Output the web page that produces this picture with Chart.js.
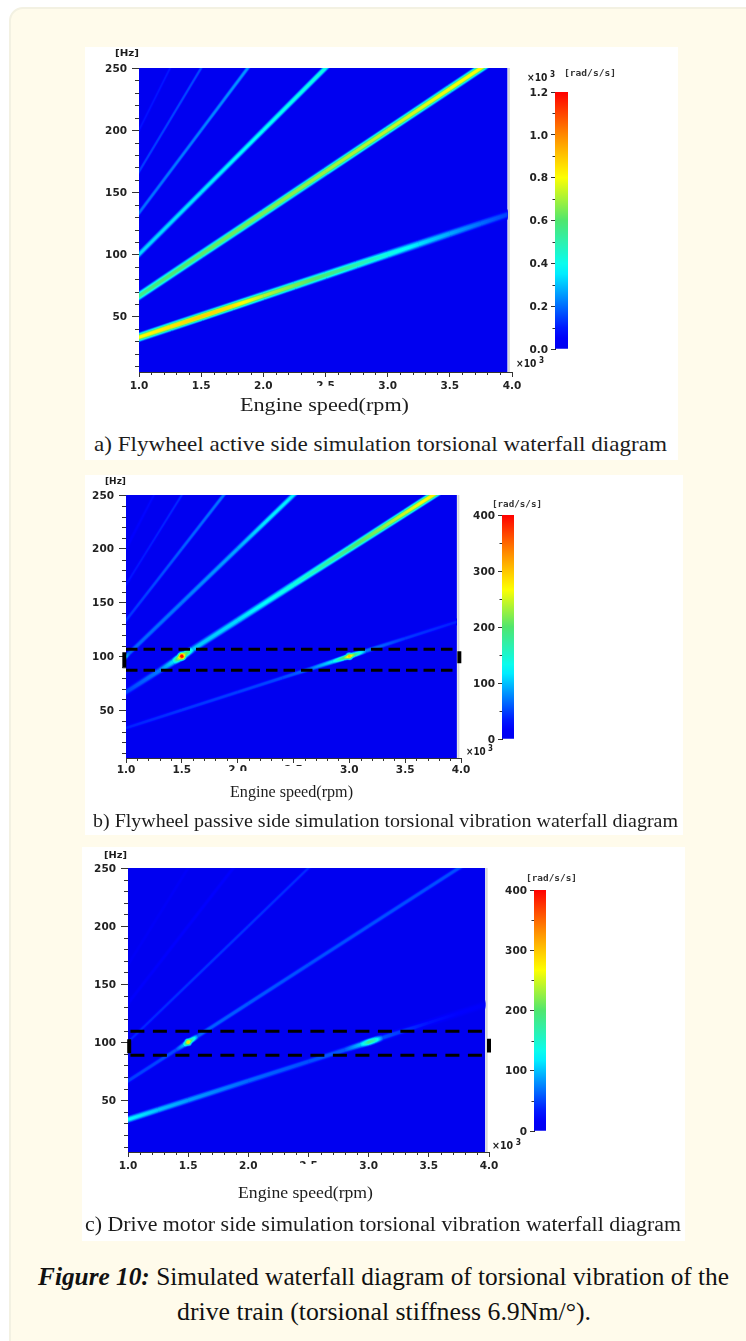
<!DOCTYPE html>
<html><head><meta charset="utf-8">
<script src="https://cdn.jsdelivr.net/npm/chart.js@4"></script>
<style>
html,body{margin:0;padding:0;background:#fff;width:746px;height:1341px;overflow:hidden}
#stage{position:absolute;left:0;top:0;width:746px;height:1341px;overflow:hidden;filter:blur(.35px)}
#card{position:absolute;left:9px;top:7px;width:760px;height:1360px;box-sizing:border-box;background:#fffbeb;border:2px solid #f3f1e2;border-radius:14px}
.panel,.patch{position:absolute;background:#fff}
canvas{position:absolute}
.t{position:absolute;white-space:nowrap;transform-origin:0 50%;color:#1c1c1c}
</style></head><body><div id="stage"><div id="card"></div></div>
<script>
// ---------- data: [engine speed x10^3 rpm, frequency Hz, amplitude] ----------
const xTicks=[1,1.5,2,2.5,3,3.5,4];
const xMinor=[1.1,1.2,1.3,1.4,1.6,1.7,1.8,1.9,2.1,2.2,2.3,2.4,2.6,2.7,2.8,2.9,3.1,3.2,3.3,3.4,3.6,3.7,3.8,3.9];
const yTicks=[50,100,150,200,250];
const yMinor=[10,20,30,40,60,70,80,90,110,120,130,140,160,170,180,190,210,220,230,240];
const barTicksA=[0,0.2,0.4,0.6,0.8,1.0,1.2];
const barMinorA=[0.1,0.3,0.5,0.7,0.9,1.1];
const barTicksBC=[0,100,200,300,400];
const barMinorBC=[50,150,250,350];

const a2=[[0.98,32.7,0.8],[1.25,41.7,0.85],[1.5,50,0.88],[1.75,58.3,0.85],[2,66.7,0.72],[2.25,75,0.65],[2.5,83.3,0.58],[2.75,91.7,0.5],[3,100,0.42],[3.25,108.3,0.34],[3.5,116.7,0.27],[3.75,125,0.2],[4,133.3,0.14]];
const a4=[[0.98,65.3,0.56],[1.5,100,0.62],[2,133.3,0.65],[2.5,166.7,0.69],[3,200,0.73],[3.5,233.3,0.79],[3.8,253.3,0.8]];
const a6=[[0.98,98,0.32],[1.5,150,0.34],[2,200,0.38],[2.5,250,0.42],[2.55,255,0.42]];
const a8=[[0.98,130.7,0.2],[1.5,200,0.22],[1.875,250,0.25],[1.92,256,0.25]];
const a10=[[0.98,163.3,0.14],[1.25,208.3,0.15],[1.5,250,0.16],[1.55,258,0.16]];
const a12=[[0.98,196,0.09],[1.25,250,0.1],[1.3,260,0.1]];

const b2=[[0.98,32.7,36],[1.5,50,44],[2,66.7,48],[2.4,80,52],[2.65,88.3,66],[2.85,95,115],[2.95,98.3,200],[3,100,300],[3.05,101.7,190],[3.15,105,72],[3.5,116.7,46],[4,133.3,34]];
const b4=[[0.98,65.3,48],[1.3,86.7,72],[1.42,94.7,110],[1.47,98,240],[1.5,100,395],[1.53,102,220],[1.6,106.7,100],[2,133.3,110],[2.5,166.7,140],[3,200,190],[3.5,233.3,250],[3.8,253.3,280]];
const b6=[[0.98,98,110],[1.03,103,62],[1.5,150,70],[2,200,90],[2.25,225,115],[2.5,250,118],[2.55,255,118]];
const b8=[[0.98,130.7,42],[1.5,200,60],[1.875,250,70],[1.92,256,70]];
const b10=[[0.98,163.3,30],[1.5,250,40],[1.55,258,40]];
const b12=[[0.98,196,22],[1.25,250,28],[1.3,260,28]];
const hotB=[[1.5,100,395],[3,100,300],[1,100,120]];

const c2=[[0.98,32.7,125],[1.25,41.7,100],[1.5,50,85],[2,66.7,65],[2.5,83.3,55],[2.8,93.3,58],[2.93,97.7,100],[3,100,185],[3.05,101.7,160],[3.12,104,56],[3.5,116.7,30],[4,133.3,18]];
const c4=[[0.98,65.3,48],[1.4,93.3,52],[1.46,97.3,95],[1.5,100,290],[1.53,102,180],[1.58,105.3,62],[2,133.3,58],[2.5,166.7,55],[3,200,55],[3.5,233.3,54],[3.8,253.3,54]];
const c6=[[0.98,98,36],[1.5,150,42],[2,200,42],[2.5,250,40],[2.55,255,40]];
const c8=[[0.98,130.7,20],[1.5,200,24],[1.875,250,24],[1.92,256,24]];
const c10=[[0.98,163.3,12],[1.5,250,15],[1.55,258,15]];
const hotC=[[1.5,100,290],[3,100,185]];

const bandBHigh=[[1,106.5],[3.963,106.5]];
const bandBLow=[[1,87],[3.963,87]];
const bandBLeft=[[0.985,103.7],[0.985,88.8]];
const bandBRight=[[3.985,104.6],[3.985,93.5]];
const bandCHigh=[[1.02,109.5],[3.97,109.5]];
const bandCLow=[[1.02,88.8],[3.97,88.8]];
const bandCLeft=[[1.01,102.6],[1.01,90.5]];
const bandCRight=[[4,103],[4,91]];

const captions={
 a:'a) Flywheel active side simulation torsional waterfall diagram',
 b:'b) Flywheel passive side simulation torsional vibration waterfall diagram',
 c:'c) Drive motor side simulation torsional vibration waterfall diagram'};
const xTitle='Engine speed(rpm)';

// ---------- colours ----------
const BLUE=[0,0,240];
const jetStops=[[0,BLUE],[.06,[0,0,255]],[.31,[0,255,255]],[.5,[80,230,110]],[.67,[255,255,0]],[.83,[255,140,0]],[1,[255,0,0]]];
function jet(t){t=Math.max(0,Math.min(1,t));
 for(let i=1;i<jetStops.length;i++){if(t<=jetStops[i][0]){const[a,ca]=jetStops[i-1],[b,cb]=jetStops[i],f=(t-a)/(b-a);
  return `rgb(${ca.map((c,j)=>Math.round(c+(cb[j]-c)*f)).join(',')})`;}}
 return 'rgb(255,0,0)';}

// ---------- ridge = stacked lines, brightest and narrowest on top ----------
const layerK=[.16,.32,.5,.68,.84,1], layerW=[1,.86,.72,.58,.44,.3];
function ridge(rows,width,max,P){
 const cr=-(4-P.end)/3*(P.right-P.left);
 return layerK.map((k,li)=>({
  data:rows.map(r=>({x:r[0],y:r[1]})),
  borderWidth:width*layerW[li],borderCapStyle:'butt',pointRadius:0,tension:0,clip:{left:0,top:0,right:cr,bottom:0},order:20-li,
  borderColor:jet(rows[0][2]/max*k),
  segment:{borderColor(c){
    const g=c.chart.ctx.createLinearGradient(c.p0.x,c.p0.y,c.p1.x,c.p1.y);
    const v0=rows[c.p0DataIndex][2]/max*k,v1=rows[c.p1DataIndex][2]/max*k;
    for(let i=0;i<=6;i++)g.addColorStop(i/6,jet(v0+(v1-v0)*i/6));
    return g;}}
 }));
}
function hot(rows,radius,max){
 return layerK.map((k,li)=>({
  data:rows.map(r=>({x:r[0],y:r[1]})),showLine:false,order:20-li,clip:0,
  pointRadius:rows.map(r=>radius*layerW[li]*Math.sqrt(r[2]/max)),borderWidth:0,pointBorderWidth:0,
  pointBackgroundColor:rows.map(r=>jet(r[2]/max*k))
 }));
}
function overlay(rows,width,dash,clip){
 return {data:rows.map(r=>({x:r[0],y:r[1]})),borderColor:'#000',borderWidth:width,borderDash:dash||[],pointRadius:0,tension:0,order:0,clip:clip?false:0};
}

// ---------- panels ----------
const stage=document.getElementById('stage');
const FONT='"DejaVu Sans"';
const surface={id:'surface',
 beforeDatasetsDraw(ch,_,o){const {ctx,scales:{x,y}}=ch,L=x.getPixelForValue(1),R=x.getPixelForValue(o.end),T=y.getPixelForValue(250),B=y.getPixelForValue(5.4);
  ctx.save();ctx.fillStyle='rgb('+BLUE.join(',')+')';ctx.fillRect(L,T,R-L,B-T);
  ctx.fillStyle='#d8d8d8';ctx.fillRect(R+.5,T,2,B-T);ctx.restore();},
 afterDraw(ch){const {ctx,scales:{x,y}}=ch;ctx.save();ctx.strokeStyle='#333';ctx.lineWidth=1;ctx.beginPath();
  xMinor.forEach(v=>{const p=Math.round(x.getPixelForValue(v))+.5;ctx.moveTo(p,y.bottom);ctx.lineTo(p,y.bottom+3);});
  yMinor.forEach(v=>{const p=Math.round(y.getPixelForValue(v))+.5;ctx.moveTo(x.left,p);ctx.lineTo(x.left-4,p);});
  ctx.stroke();ctx.restore();}};
const barMinor={id:'barMinor',afterDraw(ch,_,o){const {ctx,scales:{y}}=ch;ctx.save();ctx.strokeStyle='#333';ctx.beginPath();
  o.values.forEach(v=>{const p=Math.round(y.getPixelForValue(v))+.5;ctx.moveTo(y.right,p);ctx.lineTo(y.right-2.5,p);});ctx.stroke();ctx.restore();}};

function addDiv(cls,x0,y0,x1,y1){const d=document.createElement('div');d.className=cls;
 d.style.cssText+=`left:${x0}px;top:${y0}px;width:${x1-x0}px;height:${y1-y0}px`;stage.appendChild(d);return d;}
function addCanvas(x0,y0,w,h){const c=document.createElement('canvas');c.width=w;c.height=h;
 c.style.cssText=`left:${x0}px;top:${y0}px;width:${w}px;height:${h}px`;stage.appendChild(c);return c;}
function addText(html,x0,x1,cy,font,color){const s=document.createElement('span');s.className='t';s.innerHTML=html;
 s.style.font=font;s.style.lineHeight='30px';s.style.left=x0+'px';s.style.top=(cy-15)+'px';if(color)s.style.color=color;stage.appendChild(s);
 s.style.transform=`scaleX(${(x1-x0)/s.getBoundingClientRect().width})`;return s;}

function plot(P,datasets){
 const pad={l:50,t:20,r:24,b:26};
 const cv=addCanvas(P.left-pad.l,P.top-pad.t,P.right-P.left+pad.l+pad.r,P.bottom-P.top+pad.t+pad.b);
 new Chart(cv,{type:'line',data:{datasets},plugins:[surface],options:{
  responsive:false,animation:false,events:[],
  layout:{padding:{top:pad.t,right:pad.r,left:0,bottom:0}},
  plugins:{legend:{display:false},tooltip:{enabled:false},surface:{end:P.end}},
  scales:{
   x:{type:'linear',min:1,max:4,
    afterFit(s){s.height=pad.b;},
    afterBuildTicks(s){s.ticks=xTicks.map(v=>({value:v}));},
    grid:{drawOnChartArea:false,tickLength:5,tickColor:'#333'},border:{color:'#333',width:1},
    ticks:{maxRotation:0,autoSkip:false,padding:P.xpad,color:'#222',font:{family:FONT,size:10.5,weight:'bold'},callback:v=>v.toFixed(1)}},
   y:{type:'linear',min:5.4,max:250,
    afterFit(s){s.width=pad.l;},
    afterBuildTicks(s){s.ticks=yTicks.map(v=>({value:v}));},
    grid:{drawOnChartArea:false,tickLength:7,tickColor:'#333'},border:{color:'#333',width:1},
    ticks:{autoSkip:false,padding:5,labelOffset:1,color:'#222',font:{family:FONT,size:10.5,weight:'bold'},callback:v=>String(v)}}
  }}});
}
function colorbar(B,max,ticks,minor,fmt){
 const pad={l:42,t:10,r:2,b:10};
 const cv=addCanvas(B.left-pad.l,B.top-pad.t,B.right-B.left+pad.l+pad.r,B.bottom-B.top+pad.t+pad.b);
 new Chart(cv,{type:'bar',data:{labels:['scale'],datasets:[{data:[max],barPercentage:1,categoryPercentage:1,
   backgroundColor(c){const a=c.chart.chartArea;if(!a)return '#00f';const g=c.chart.ctx.createLinearGradient(0,a.bottom,0,a.top);
    for(let i=0;i<=24;i++)g.addColorStop(i/24,jet(i/24));return g;}}]},
  plugins:[barMinor],options:{responsive:false,animation:false,events:[],
  layout:{padding:{top:pad.t,right:pad.r,left:0,bottom:pad.b}},
  plugins:{legend:{display:false},tooltip:{enabled:false},barMinor:{values:minor}},
  scales:{x:{display:false},
   y:{min:0,max:max,afterFit(s){s.width=pad.l;},afterBuildTicks(s){s.ticks=ticks.map(v=>({value:v}));},
    grid:{drawOnChartArea:false,tickLength:4,tickColor:'#333'},border:{color:'#222',width:1},
    ticks:{autoSkip:false,padding:3,labelOffset:1,color:'#222',font:{family:FONT,size:10.5,weight:'bold'},callback:fmt}}}}});
}
const lab=(px)=>`bold ${px}px "DejaVu Sans"`;
const mono='bold 8.5px "DejaVu Sans Mono"';
const x10='×10<sup style="font-size:8px;line-height:0"> 3</sup>';

// panel a
addDiv('panel',85,47,678,460);
const PA={left:139,right:512,top:68,bottom:372,end:3.963,xpad:3};
plot(PA,[
 ...ridge(a2,10,1.2,PA),...ridge(a4,9.5,1.2,PA),...ridge(a6,7,1.2,PA),...ridge(a8,5.5,1.2,PA),...ridge(a10,4.5,1.2,PA),...ridge(a12,4,1.2,PA)]);
colorbar({left:555,right:568,top:92,bottom:349},1.2,barTicksA,barMinorA,v=>v.toFixed(1));
addText('[Hz]',115,139,53,lab(8.5));
addText(x10,516,544,364,lab(10));
addText(x10,527,555,78,lab(10));
addText('[rad/s/s]',564,616,73,mono,'#333');
addText(xTitle,240,409,405,'19px "Liberation Serif"');
addDiv('patch',273,386,376,394);
addText(captions.a,94,667,444,'21px "Liberation Serif"');

// panel b
addDiv('panel',85,475,683,835);
const PB={left:126,right:461,top:495,bottom:758,end:3.963,xpad:1};
plot(PB,[
 overlay(bandBHigh,3,[11.5,6]),overlay(bandBLow,3,[11.5,6]),overlay(bandBLeft,4,[],true),overlay(bandBRight,4,[],true),
 ...hot(hotB,5,400),
 ...ridge(b2,6.5,400,PB),...ridge(b4,9,400,PB),...ridge(b6,7,400,PB),...ridge(b8,5.5,400,PB),...ridge(b10,4.5,400,PB),...ridge(b12,4,400,PB)]);
colorbar({left:502,right:514,top:515,bottom:739},400,barTicksBC,barMinorBC,v=>String(v));
addText('[Hz]',105,126,481,lab(8.5));
addText(x10,466,493,752,lab(10));
addText('[rad/s/s]',492,542,504,mono,'#333');
addDiv('patch',222,771,256,778);
addDiv('patch',272,766,335,778);
addText(xTitle,230,353,792,'16px "Liberation Serif"');
addText(captions.b,93,678,821,'19.5px "Liberation Serif"');

// panel c
addDiv('panel',82,847,685,1241);
const PC={left:128,right:489,top:868,bottom:1152,end:3.968,xpad:3};
plot(PC,[
 overlay(bandCHigh,3,[14,8.5]),overlay(bandCLow,3,[14,8.5]),overlay(bandCLeft,4,[],true),overlay(bandCRight,4,[],true),
 ...hot(hotC,5,400),
 ...ridge(c2,8.5,400,PC),...ridge(c4,7,400,PC),...ridge(c6,5.5,400,PC),...ridge(c8,4.5,400,PC),...ridge(c10,4,400,PC)]);
colorbar({left:534,right:546,top:890,bottom:1131},400,barTicksBC,barMinorBC,v=>String(v));
addText('[Hz]',104,127,855,lab(8.5));
addText(x10,492,521,1146,lab(10));
addText('[rad/s/s]',526,577,878,mono,'#333');
addDiv('patch',262,1164,356,1173);
addText(xTitle,238,373,1193,'17px "Liberation Serif"');
addText(captions.c,85,681,1224,'20px "Liberation Serif"');

// figure caption
addText('<b><i>Figure 10:</i></b> Simulated waterfall diagram of torsional vibration of the',38,729,1277,'24.5px "Liberation Serif"','#111');
addText('drive train (torsional stiffness 6.9Nm/°).',177,591,1312,'24.5px "Liberation Serif"','#111');
</script></body></html>
